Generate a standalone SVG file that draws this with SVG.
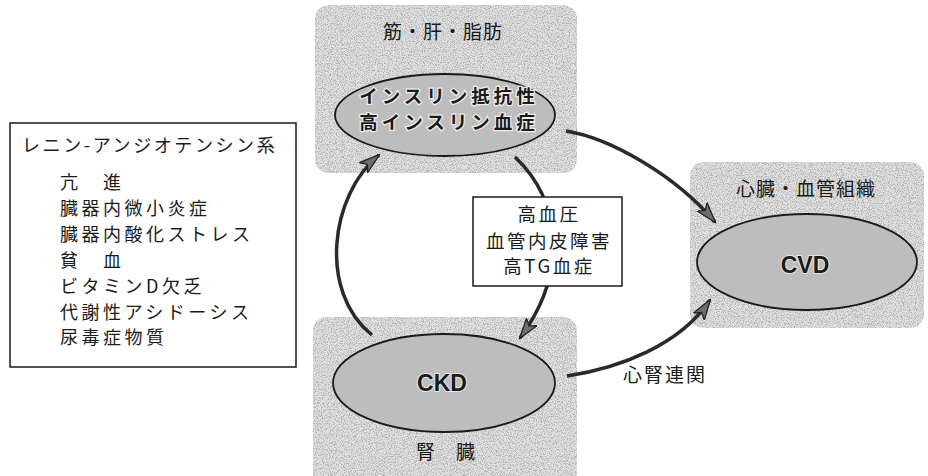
<svg xmlns="http://www.w3.org/2000/svg" width="928" height="476" viewBox="0 0 928 476">
<defs>
<filter id="grain" x="0" y="0" width="100%" height="100%">
<feTurbulence type="fractalNoise" baseFrequency="0.85" numOctaves="2" seed="7" result="n"/>
<feColorMatrix in="n" type="matrix" values="0 0 0 0 0.45  0 0 0 0 0.45  0 0 0 0 0.45  5 0 0 0 -2.3" result="dots"/>
<feComposite in="dots" in2="SourceGraphic" operator="in" result="d2"/>
<feMerge><feMergeNode in="SourceGraphic"/><feMergeNode in="d2"/></feMerge>
</filter>
<marker id="arr" markerUnits="userSpaceOnUse" markerWidth="24" markerHeight="16" refX="20" refY="7" orient="auto" viewBox="0 0 24 16">
<path d="M0,0.5 L21,7 L0,13.5 L5,7 z" fill="#6e6e6e" stroke="#222" stroke-width="1.3" stroke-linejoin="round"/>
</marker>
</defs>
<style>
.region{fill:#e0e0e0;filter:url(#grain);}
.ell{fill:#bdbdbd;stroke:#1a1a1a;stroke-width:1.8;}
.jp{font-family:"Noto Sans CJK JP","Noto Sans CJK SC",sans-serif;fill:#1a1a1a;}
.ttl{font-size:19px;letter-spacing:1px;text-anchor:middle;}
.big{font-size:18.5px;letter-spacing:4px;font-weight:bold;text-anchor:middle;stroke:#eeeeee;stroke-width:2.5;paint-order:stroke;}
.lat{font-family:"Liberation Sans",Arial,sans-serif;font-size:23px;font-weight:bold;text-anchor:middle;fill:#1a1a1a;stroke:#e6e6e6;stroke-width:2;paint-order:stroke;}
.box{fill:#ffffff;stroke:#1a1a1a;stroke-width:1.5;}
.lst{font-size:18px;letter-spacing:3.5px;}
.mid{font-size:18.5px;letter-spacing:2.5px;text-anchor:middle;}
.con{fill:none;stroke:#2a2a2a;stroke-width:3.5;marker-end:url(#arr);}
</style>
<rect width="928" height="476" fill="#ffffff"/>

<g id="region-top"><rect class="region" x="315" y="5" width="262" height="168" rx="14"/></g>
<g id="region-cvd"><rect class="region" x="690" y="162" width="234" height="166" rx="14"/></g>
<g id="region-ckd"><rect class="region" x="313" y="317" width="264" height="170" rx="14"/></g>

<g id="connectors">
<path class="con" d="M566,131 C610,138 675,175 715,222"/>
<path class="con" d="M567,376 C620,368 680,345 710,300"/>
<path class="con" d="M372,335 C318,292 330,195 379,155"/>
<path class="con" d="M515,157 C560,200 570,270 520,338"/>
</g>

<g id="node-insulin">
<text class="jp ttl" x="443" y="39">筋・肝・脂肪</text>
<ellipse class="ell" cx="445" cy="115" rx="110" ry="41"/>
<text class="jp big" x="449" y="103">インスリン抵抗性</text>
<text class="jp big" x="449" y="129">高インスリン血症</text>
</g>

<g id="node-cvd">
<text class="jp ttl" x="806" y="196">心臓・血管組織</text>
<ellipse class="ell" cx="807" cy="262" rx="110" ry="48"/>
<text class="lat" x="805" y="273">CVD</text>
</g>

<g id="node-ckd">
<ellipse class="ell" cx="444" cy="383" rx="111" ry="49"/>
<text class="lat" x="442" y="391">CKD</text>
<text class="jp ttl" x="446" y="459">腎　臓</text>
</g>

<g id="node-factors">
<rect class="box" x="10" y="123" width="286" height="244"/>
<text class="jp lst" x="22" y="152" style="letter-spacing:2.6px">レニン-アンジオテンシン系</text>
<text class="jp lst" x="60" y="189">亢　進</text>
<text class="jp lst" x="60" y="215">臓器内微小炎症</text>
<text class="jp lst" x="60" y="241">臓器内酸化ストレス</text>
<text class="jp lst" x="60" y="267">貧　血</text>
<text class="jp lst" x="60" y="293">ビタミンD欠乏</text>
<text class="jp lst" x="60" y="318.5">代謝性アシドーシス</text>
<text class="jp lst" x="60" y="344">尿毒症物質</text>
</g>

<g id="node-middle">
<rect class="box" x="473" y="197" width="149" height="89"/>
<text class="jp mid" x="549" y="221">高血圧</text>
<text class="jp mid" x="549" y="248">血管内皮障害</text>
<text class="jp mid" x="549" y="273">高TG血症</text>
</g>

<g id="label-cardiorenal">
<text class="jp" x="623" y="382" style="font-size:19px;letter-spacing:2px">心腎連関</text>
</g>
</svg>
